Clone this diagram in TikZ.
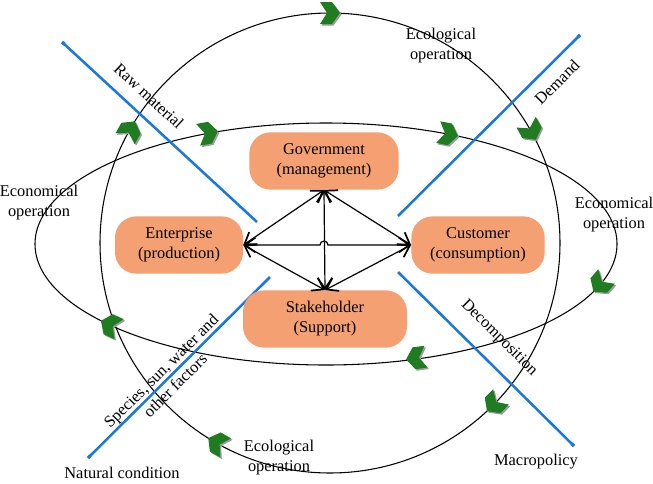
\documentclass[tikz,border=0pt]{standalone}
\usepackage{fontspec}
\setmainfont{Liberation Serif}
\usetikzlibrary{arrows.meta}
\definecolor{boxfill}{RGB}{245,160,114}
\definecolor{lineblue}{RGB}{28,120,216}
\definecolor{chevgreen}{RGB}{32,124,32}
\definecolor{chevgray}{RGB}{155,155,155}
% a green chevron with its grey shadow: x, y, direction
\newcommand{\chev}[3]{%
  \fill[chevgray,shift={(#1+1.5,#2+1.5)},rotate=#3] (-10,-11) -- (2,-11) -- (10,0) -- (2,11) -- (-10,11) -- (-3,0) -- cycle;
  \fill[chevgreen,shift={(#1,#2)},rotate=#3] (-10,-11) -- (2,-11) -- (10,0) -- (2,11) -- (-10,11) -- (-3,0) -- cycle;}

\begin{document}
\begin{tikzpicture}
[x=0.75pt,y=-0.75pt,>={Straight Barb[length=8pt,width=11pt,line width=1.3pt]},
 font=\fontsize{12.3}{15}\selectfont,
 box/.style={fill=boxfill,rounded corners=16pt,align=center,inner sep=0pt,minimum height=43pt},
 flow/.style={<->,line width=0.9pt},
 cut/.style={draw=lineblue,line width=1.9pt,-{Square[length=2.5pt,width=2.6pt]}},
 lab/.style={align=center}]

\useasboundingbox (0,0) rectangle (653,483);

% the two cycles
\draw[line width=0.8pt] (330,243) circle [radius=230];
\draw[line width=0.8pt] (326,244) ellipse [x radius=291, y radius=121];

% the blue cuts
\coordinate (RawIn) at (257,222);
\coordinate (RawOut) at (62,42);
\coordinate (DemIn) at (398,216);
\coordinate (DemOut) at (580,35);
\coordinate (NatIn) at (270,277);
\coordinate (NatOut) at (88,458);
\coordinate (DecIn) at (398,272);
\coordinate (DecOut) at (574,446);
\draw[cut] (RawIn) -- (RawOut);
\draw[cut] (DemIn) -- (DemOut);
\draw[cut] (NatIn) -- (NatOut);
\draw[cut] (DecIn) -- (DecOut);

% labels on the cuts
\node[lab,rotate=-42.7] (raw) at (149,96) {Raw material};
\node[lab,rotate=44.8] (dem) at (557,82) {Demand};
\node[lab,rotate=44.8] (spe) at (168,378) {Species, sun, water and\\other factors};
\node[lab,rotate=-44.7] (dec) at (499,338) {Decomposition};

% the chevrons on the ecological cycle
\chev{330}{13}{0}
\chev{531}{131}{-61}
\chev{494}{404}{-134.5}
\chev{217}{443}{150.6}
\chev{130}{130}{60.5}

% the chevrons on the economical cycle
\chev{208}{133}{10.4}
\chev{448}{134}{-10.8}
\chev{600}{284}{228.8}
\chev{416}{358}{187.7}
\chev{110}{325}{155.2}

% the four actors
\node[box,minimum width=112pt] (gov) at (324,161) {Government\\(management)};
\node[box,minimum width=96pt] (ent) at (179,245) {Enterprise\\(production)};
\node[box,minimum width=100pt] (cus) at (478,245) {Customer\\(consumption)};
\node[box,minimum width=123pt] (sta) at (325,319) {Stakeholder\\(Support)};

% the links between them
\coordinate (hop) at (320,245);
\draw[flow] (gov.south) -- (sta.north);
\draw[flow] (ent.east) -- (hop) arc [start angle=180, end angle=360, radius=4] -- (cus.west);
\draw[flow] (ent.east) -- (gov.south);
\draw[flow] (gov.south) -- (cus.west);
\draw[flow] (ent.east) -- (sta.north);
\draw[flow] (sta.north) -- (cus.west);

% the other texts
\node[lab] (ecoT) at (441,46) {Ecological\\operation};
\node[lab] (ecoB) at (279,458) {Ecological\\operation};
\node[lab] (ecnL) at (39,203) {Economical\\operation};
\node[lab] (ecnR) at (614,215) {Economical\\operation};
\node[lab] (nat) at (122,473) {Natural condition};
\node[lab] (mac) at (536,462) {Macropolicy};

\end{tikzpicture}
\end{document}
